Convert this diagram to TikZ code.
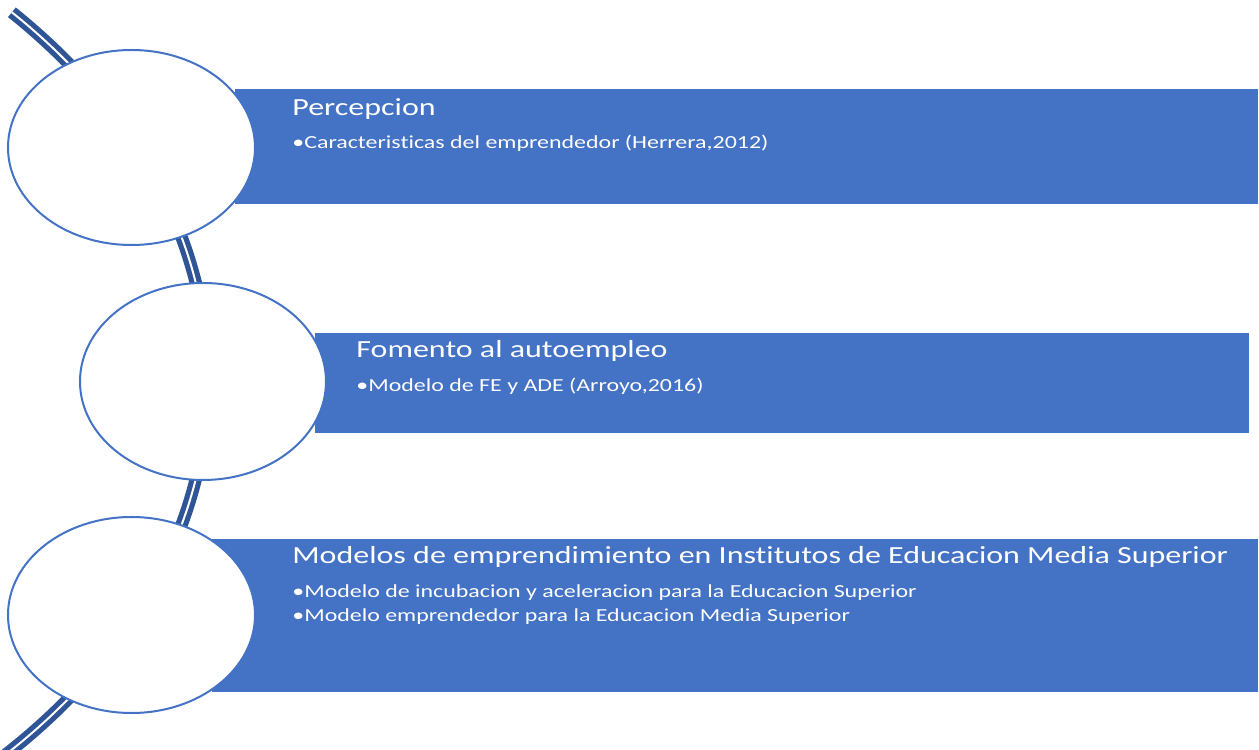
\documentclass[tikz,border=0pt]{standalone}
\usepackage{fontspec}
\newfontfamily\calfont[FakeStretch=1.30,RawFeature=-liga]{Carlito}
\usetikzlibrary{shapes.geometric}
\definecolor{accent}{HTML}{4472C4}
\definecolor{arcblue}{HTML}{2F5597}
\tikzset{
  band/.style={rectangle, fill=accent, draw=none, inner sep=0pt, anchor=north west},
  bubble/.style={ellipse, draw=accent, line width=1pt, fill=white, inner sep=0pt},
  title/.style={anchor=base west, inner sep=0pt, text=white, font=\calfont\fontsize{12.3}{14}\selectfont},
  item/.style={anchor=base west, inner sep=0pt, text=white, font=\calfont\fontsize{9.2}{12}\selectfont},
}
\begin{document}
\begin{tikzpicture}[x=0.5pt,y=0.5pt]
\path[use as bounding box, fill=white] (0,0) rectangle (1259,750);
% background arc
\draw[arcblue, line width=2.6pt, double=white, double distance=1pt]
  (-552,369) ++(42.1:760 and 550) arc[start angle=42.1, end angle=-43.5, x radius=760, y radius=550];
% bands
\node[band, minimum width=511.5pt, minimum height=57.5pt] (b1) at (235,661) {};
\node[band, minimum width=467pt, minimum height=50pt] (b2) at (315,417) {};
\node[band, minimum width=523pt, minimum height=76.5pt] (b3) at (212,211) {};
% bubbles
\node[bubble, minimum width=123.5pt, minimum height=97.5pt] (c1) at (131.5,602.5) {};
\node[bubble, minimum width=123pt, minimum height=98.5pt] (c2) at (203,368.5) {};
\node[bubble, minimum width=123.5pt, minimum height=98pt] (c3) at (131.5,135) {};
% texts
\node[title] (t1) at (292,634.3) {Percepcion};
\node[item] (i1) at (292,601) {•Caracteristicas del emprendedor (Herrera,2012)};
\node[title] (t2) at (356,392) {Fomento al autoempleo};
\node[item] (i2) at (356,358) {•Modelo de FE y ADE (Arroyo,2016)};
\node[title] (t3) at (292,186) {Modelos de emprendimiento en Institutos de Educacion Media Superior};
\node[item] (i3) at (292,152) {•Modelo de incubacion y aceleracion para la Educacion Superior};
\node[item] (i4) at (292,128) {•Modelo emprendedor para la Educacion Media Superior};
\end{tikzpicture}
\end{document}
